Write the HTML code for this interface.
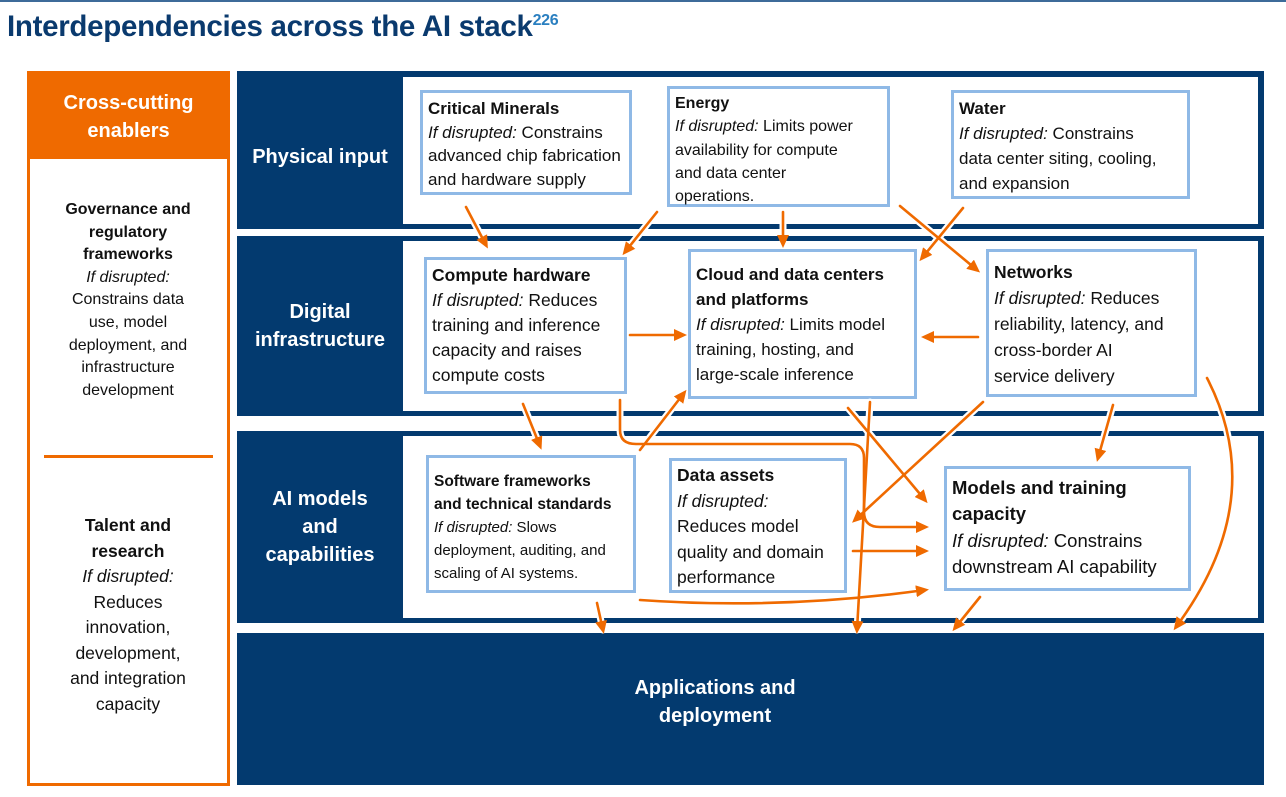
<!DOCTYPE html><html><head><meta charset="utf-8"><style>
body{margin:0;width:1286px;height:797px;background:#fff;position:relative;overflow:hidden;font-family:"Liberation Sans",sans-serif;}
.a{position:absolute;box-sizing:border-box;}
.nv{background:#033a6f;}
.wp{background:#fff;}
.lab{color:#fff;font-weight:bold;font-size:20px;text-align:center;display:flex;align-items:center;justify-content:center;line-height:28px;}
.bx{background:#fff;border:3px solid #8fb9e6;padding:5px 5px;font-size:17px;line-height:24px;color:#111;white-space:nowrap;}
.lt{text-align:center;font-size:16px;line-height:22.6px;color:#111;white-space:nowrap;}
</style></head><body>
<div class="a" style="left:0;top:0;width:1286px;height:2px;background:#3d6b99"></div>
<div class="a" style="left:7px;top:10px;font-size:29.5px;font-weight:bold;color:#0a3a6e;letter-spacing:-0.3px;white-space:nowrap">Interdependencies across the AI stack<sup style="font-size:16px;color:#2a7fc0;vertical-align:top;position:relative;top:2px">226</sup></div>

<div class="a" style="left:27px;top:71px;width:203px;height:715px;border:3px solid #ef6a00;"></div>
<div class="a lab" style="left:27px;top:74px;width:203px;height:85px;background:#ef6a00;font-size:20px">Cross-cutting<br>enablers</div>
<div class="a lt" style="left:40px;top:199px;width:176px"><b>Governance and<br>regulatory<br>frameworks</b><br><i>If disrupted:</i><br>Constrains data<br>use, model<br>deployment, and<br>infrastructure<br>development</div>
<div class="a" style="left:44px;top:455px;width:169px;height:3px;background:#ef6a00"></div>
<div class="a lt" style="left:40px;top:513px;width:176px;font-size:17.5px;line-height:25.5px"><b>Talent and<br>research</b><br><i>If disrupted:</i><br>Reduces<br>innovation,<br>development,<br>and integration<br>capacity</div>

<div class="a nv" style="left:237px;top:71px;width:1027px;height:158px"></div>
<div class="a wp" style="left:403px;top:77px;width:855px;height:147px"></div>
<div class="a lab" style="left:237px;top:85px;width:166px;height:144px">Physical input</div>
<div class="a nv" style="left:237px;top:236px;width:1027px;height:180px"></div>
<div class="a wp" style="left:403px;top:241px;width:855px;height:170px"></div>
<div class="a lab" style="left:237px;top:236px;width:166px;height:180px">Digital<br>infrastructure</div>
<div class="a nv" style="left:237px;top:431px;width:1027px;height:192px"></div>
<div class="a wp" style="left:403px;top:436px;width:855px;height:182px"></div>
<div class="a lab" style="left:237px;top:431px;width:166px;height:192px">AI models<br>and<br>capabilities</div>
<div class="a nv" style="left:237px;top:633px;width:1027px;height:152px"></div>
<div class="a lab" style="left:565px;top:667px;width:300px;height:70px">Applications and<br>deployment</div>

<div class="a bx" style="left:420px;top:90px;width:212px;height:105px;padding-top:4px;line-height:23.5px"><b>Critical Minerals</b><br><i>If disrupted:</i> Constrains<br>advanced chip fabrication<br>and hardware supply</div>
<div class="a bx" style="left:667px;top:86px;width:223px;height:121px;font-size:16px;line-height:23.3px;padding-top:3px"><b>Energy</b><br><i>If disrupted:</i> Limits power<br>availability for compute<br>and data center<br>operations.</div>
<div class="a bx" style="left:951px;top:90px;width:239px;height:109px;line-height:25px;padding-top:3px"><b>Water</b><br><i>If disrupted:</i> Constrains<br>data center siting, cooling,<br>and expansion</div>
<div class="a bx" style="left:424px;top:257px;width:203px;height:137px;font-size:17.5px;line-height:25px;padding-top:3px"><b>Compute hardware</b><br><i>If disrupted:</i> Reduces<br>training and inference<br>capacity and raises<br>compute costs</div>
<div class="a bx" style="left:688px;top:249px;width:229px;height:150px;font-size:17px;line-height:25px;padding-top:10px"><b>Cloud and data centers<br>and platforms</b><br><i>If disrupted:</i> Limits model<br>training, hosting, and<br>large-scale inference</div>
<div class="a bx" style="left:986px;top:249px;width:211px;height:148px;font-size:17.5px;line-height:26px;padding-top:7px"><b>Networks</b><br><i>If disrupted:</i> Reduces<br>reliability, latency, and<br>cross-border AI<br>service delivery</div>
<div class="a bx" style="left:426px;top:455px;width:210px;height:138px;font-size:15px;line-height:23px;padding-top:12px"><b style="font-size:15.5px">Software frameworks<br>and technical standards</b><br><i>If disrupted:</i> Slows<br>deployment, auditing, and<br>scaling of AI systems.</div>
<div class="a bx" style="left:669px;top:458px;width:178px;height:135px;font-size:17.5px;line-height:25.5px;padding-top:2px"><b>Data assets</b><br><i>If disrupted:</i><br>Reduces model<br>quality and domain<br>performance</div>
<div class="a bx" style="left:944px;top:466px;width:247px;height:125px;font-size:18.5px;line-height:26.3px;padding-top:6px"><b>Models and training<br>capacity</b><br><i>If disrupted:</i> Constrains<br>downstream AI capability</div>

<svg class="a" style="left:0;top:0" width="1286" height="797">
<defs><marker id="m" markerWidth="13" markerHeight="12" refX="9" refY="6" orient="auto" markerUnits="userSpaceOnUse"><path d="M0,0 L13,6 L0,12 z" fill="#ef6a00"/></marker></defs>
<g fill="none" stroke-linecap="round">
<g stroke="#fff" stroke-width="7">
<path d="M466,207 L486,245"/><path d="M657,212 L625,252"/><path d="M783,212 L783,244"/><path d="M963,208 L922,258"/><path d="M900,206 L977,270"/>
<path d="M523,404 L540,446"/><path d="M640,450 L684,393"/><path d="M620,400 L620,430 Q620,444 636,444 L850,444 Q864,444 864,458 L864,512 Q864,527 880,527 L925,527"/>
<path d="M848,408 L925,500"/><path d="M983,402 L855,520"/><path d="M1113,405 L1098,458"/><path d="M597,603 L603,630"/><path d="M870,402 L857,630"/><path d="M980,597 L955,628"/><path d="M1207,378 Q1270,500 1176,627"/><path d="M640,600 Q780,610 925,590"/>
</g>
<g stroke="#ef6a00" stroke-width="2.6" marker-end="url(#m)">
<path d="M466,207 L486,245"/><path d="M657,212 L625,252"/><path d="M783,212 L783,244"/><path d="M963,208 L922,258"/><path d="M900,206 L977,270"/>
<path d="M978,337 L925,337"/><path d="M630,335 L683,335"/>
<path d="M523,404 L540,446"/><path d="M640,450 L684,393"/><path d="M620,400 L620,430 Q620,444 636,444 L850,444 Q864,444 864,458 L864,512 Q864,527 880,527 L925,527"/>
<path d="M848,408 L925,500"/><path d="M983,402 L855,520"/><path d="M1113,405 L1098,458"/><path d="M853,551 L925,551"/>
<path d="M640,600 Q780,610 925,590"/><path d="M597,603 L603,630"/><path d="M870,402 L857,630"/><path d="M980,597 L955,628"/><path d="M1207,378 Q1270,500 1176,627"/>
</g></g></svg>
</body></html>
